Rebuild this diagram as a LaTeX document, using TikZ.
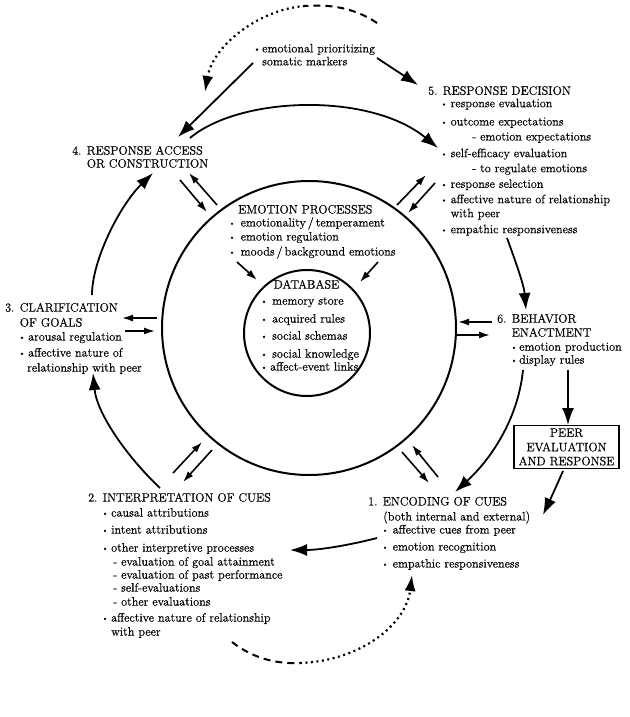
\documentclass[tikz,border=0pt]{standalone}
\usepackage{fontspec}
\setmainfont{Latin Modern Roman}[FakeBold=0.45]
\usetikzlibrary{arrows.meta}
\newcommand\bul[1][10pt]{\makebox[#1][l]{\raisebox{0.9pt}{\fontsize{8}{8}\selectfont\textbullet}}}
\tikzset{
  txt/.style={anchor=north west, inner sep=0pt, align=left, font=\fontsize{12.2}{13}\selectfont},
  bigarrow/.style={line width=1.8pt, -{Latex[length=17pt,width=12pt]}},
  smallarrow/.style={line width=1.6pt, -{Latex[length=11pt,width=7pt]}},
  ring/.style={draw, line width=2pt, circle, inner sep=0pt},
  dotline/.style={line width=2.2pt, dash pattern=on 2pt off 3.5pt},
  dashline/.style={line width=2pt, dash pattern=on 7pt off 5pt},
}
\begin{document}
\begin{tikzpicture}[x=1pt,y=-1pt]
\fill[white] (0,0) rectangle (629,717);
\useasboundingbox (0,0) rectangle (629,717);

% circles
\node[ring, minimum size=294pt] (outer) at (309,328) {};
\node[ring, minimum size=126pt] (db) at (307,333) {};

% text blocks
\node[txt] (prio) at (253.5,43.7) {\bul[8.5pt]emotional prioritizing\\ \hspace*{8.5pt}somatic markers};

\node[txt] (n5) at (428,86) {5. RESPONSE DECISION\\[-0.6pt]
\hspace*{12.5pt}\bul response evaluation\\[5.3pt]
\hspace*{12.5pt}\bul outcome expectations\\[2pt]
\hspace*{44pt}- emotion expectations\\[3.7pt]
\hspace*{12.5pt}\bul self-efficacy evaluation\\[2pt]
\hspace*{44pt}- to regulate emotions\\[2.6pt]
\hspace*{12.5pt}\bul response selection\\[2.4pt]
\hspace*{12.5pt}\bul affective nature of relationship\\[1pt]
\hspace*{22.5pt}with peer\\[3pt]
\hspace*{12.5pt}\bul empathic responsiveness};

\node[txt] (n4) at (72,145.7) {4. RESPONSE ACCESS\\ \phantom{4. }OR CONSTRUCTION};

\node[txt] (n3) at (5,302.7) {3. CLARIFICATION\\[2pt]
\phantom{3. }OF GOALS\\[1pt]
\hspace*{13.5pt}\bul[9.5pt]arousal regulation\\[3pt]
\hspace*{13.5pt}\bul[9.5pt]affective nature of\\[2pt]
\hspace*{22pt}relationship with peer};

\node[txt] (n6) at (497,313.7) {6. BEHAVIOR\\[1pt]
\phantom{6. }ENACTMENT\\[1pt]
\hspace*{13.5pt}\bul[8.5pt]emotion production\\
\hspace*{13.5pt}\bul[8.5pt]display rules};

\node[txt] (n1) at (368,496.7) {1. ENCODING OF CUES\\[2pt]
\hspace*{15pt}(both internal and external)\\
\hspace*{13.5pt}\bul[11pt]affective cues from peer\\[4pt]
\hspace*{13.5pt}\bul[11pt]emotion recognition\\[4pt]
\hspace*{13.5pt}\bul[11pt]empathic responsiveness};

\node[txt] (n2) at (88,492.7) {2. INTERPRETATION OF CUES\\[2pt]
\hspace*{13.5pt}\bul[9.5pt]causal attributions\\[4pt]
\hspace*{13.5pt}\bul[9.5pt]intent attributions\\[5pt]
\hspace*{13.5pt}\bul[9.5pt]other interpretive processes\\[1pt]
\hspace*{25pt}- evaluation of goal attainment\\
\hspace*{25pt}- evaluation of past performance\\
\hspace*{25pt}- self-evaluations\\[1pt]
\hspace*{25pt}- other evaluations\\[3pt]
\hspace*{13.5pt}\bul[9.5pt]affective nature of relationship\\[1pt]
\hspace*{23pt}with peer};

\node[txt] (ep) at (228.5,204.7) {\hspace*{9.5pt}EMOTION PROCESSES\\
\bul[12pt]emotionality\,/\,temperament\\[1pt]
\bul[12pt]emotion regulation\\[2pt]
\bul[12pt]moods\,/\,background emotions};

\node[txt] (dbt) at (260.5,279.7) {\hspace*{13pt}DATABASE\\[3pt]
\bul[11.5pt]memory store\\[5pt]
\bul[11.5pt]acquired rules\\[4pt]
\bul[11.5pt]social schemas\\[5pt]
\bul[11.5pt]social knowledge\\
\bul[9.5pt]affect-event links};

\node[draw, line width=1.2pt, align=center, inner xsep=0pt, inner ysep=2.8pt,
      minimum width=105pt, anchor=north, font=\fontsize{12.2}{14.5}\selectfont]
      (peer) at (566.5,425) {PEER\\ EVALUATION\\[-0.5pt] AND RESPONSE};

% connector end points
\coordinate (c4top) at (190,138);
\coordinate (c5in) at (438,148);
\coordinate (c5out) at (507,238);
\coordinate (c6in) at (526,310);
\coordinate (c6out) at (523,370);
\coordinate (c1in) at (455,492);
\coordinate (c6peer) at (568,370);
\coordinate (cpeerout) at (563,471);
\coordinate (c1peer) at (543,515);
\coordinate (c1out) at (377,538);
\coordinate (c2in) at (290,550);
\coordinate (c2out) at (160,488);
\coordinate (c3in) at (93,373);
\coordinate (c3out) at (92,295);
\coordinate (c4in) at (153,173);
\coordinate (cprio) at (253,63);
\coordinate (c4prio) at (178,137);
\coordinate (csom) at (377,58);
\coordinate (c5som) at (418,85);
\coordinate (ctopA) at (377,23);
\coordinate (ctopB) at (305,6);
\coordinate (ctopC) at (205,92);
\coordinate (cbotA) at (232,642);
\coordinate (cbotB) at (300,663);
\coordinate (cbotC) at (412,575);

% main cycle
\draw[bigarrow] (c4top) .. controls (240,96) and (370,92) .. (c5in);
\draw[bigarrow] (c5out) .. controls (515,260) and (524,285) .. (c6in);
\draw[bigarrow] (c6out) .. controls (518,420) and (490,460) .. (c1in);
\draw[bigarrow] (c6peer) -- (peer.north -| c6peer);
\draw[bigarrow] (cpeerout) .. controls (556,487) and (550,500) .. (c1peer);
\draw[bigarrow] (c1out) .. controls (350,545) and (320,550) .. (c2in);
\draw[bigarrow] (c2out) .. controls (130,460) and (97,415) .. (c3in);
\draw[bigarrow] (c3out) .. controls (92,260) and (120,205) .. (c4in);
\draw[bigarrow] (cprio) -- (c4prio);
\draw[bigarrow] (csom) -- (c5som);

% dashed / dotted loops
\draw[dashline] (ctopA) .. controls (355,8) and (330,4) .. (ctopB);
\draw[dotline, -{Latex[length=16pt,width=11pt]}] (ctopB) .. controls (260,9) and (213,45) .. (ctopC);
\draw[dashline] (cbotA) .. controls (255,660) and (280,664) .. (cbotB);
\draw[dotline, -{Latex[length=16pt,width=11pt]}] (cbotB) .. controls (360,661) and (406,625) .. (cbotC);

% double arrows between stages and emotion processes
\coordinate (d4a) at (180,180); \coordinate (d4b) at (207,212);
\coordinate (d4c) at (217,205); \coordinate (d4d) at (189,173);
\draw[smallarrow] (d4a) -- (d4b);
\draw[smallarrow] (d4c) -- (d4d);

\coordinate (d5a) at (397,205); \coordinate (d5b) at (426,175);
\coordinate (d5c) at (435,183); \coordinate (d5d) at (408,213);
\draw[smallarrow] (d5a) -- (d5b);
\draw[smallarrow] (d5c) -- (d5d);

\coordinate (d3a) at (157,318); \coordinate (d3b) at (122,318);
\coordinate (d3c) at (125,331); \coordinate (d3d) at (155,331);
\draw[smallarrow] (d3a) -- (d3b);
\draw[smallarrow] (d3c) -- (d3d);

\coordinate (d6a) at (492,322); \coordinate (d6b) at (458,322);
\coordinate (d6c) at (457,335); \coordinate (d6d) at (490,335);
\draw[smallarrow] (d6a) -- (d6b);
\draw[smallarrow] (d6c) -- (d6d);

\coordinate (d2a) at (173,473); \coordinate (d2b) at (202,442);
\coordinate (d2c) at (212,450); \coordinate (d2d) at (183,482);
\draw[smallarrow] (d2a) -- (d2b);
\draw[smallarrow] (d2c) -- (d2d);

\coordinate (d1a) at (402,452); \coordinate (d1b) at (429,483);
\coordinate (d1c) at (438,477); \coordinate (d1d) at (412,445);
\draw[smallarrow] (d1a) -- (d1b);
\draw[smallarrow] (d1c) -- (d1d);

% emotion processes to database
\coordinate (e1) at (237,262); \coordinate (e2) at (257,280);
\coordinate (e3) at (378,262); \coordinate (e4) at (360,282);
\draw[smallarrow] (e1) -- (e2);
\draw[smallarrow] (e3) -- (e4);
\end{tikzpicture}
\end{document}
